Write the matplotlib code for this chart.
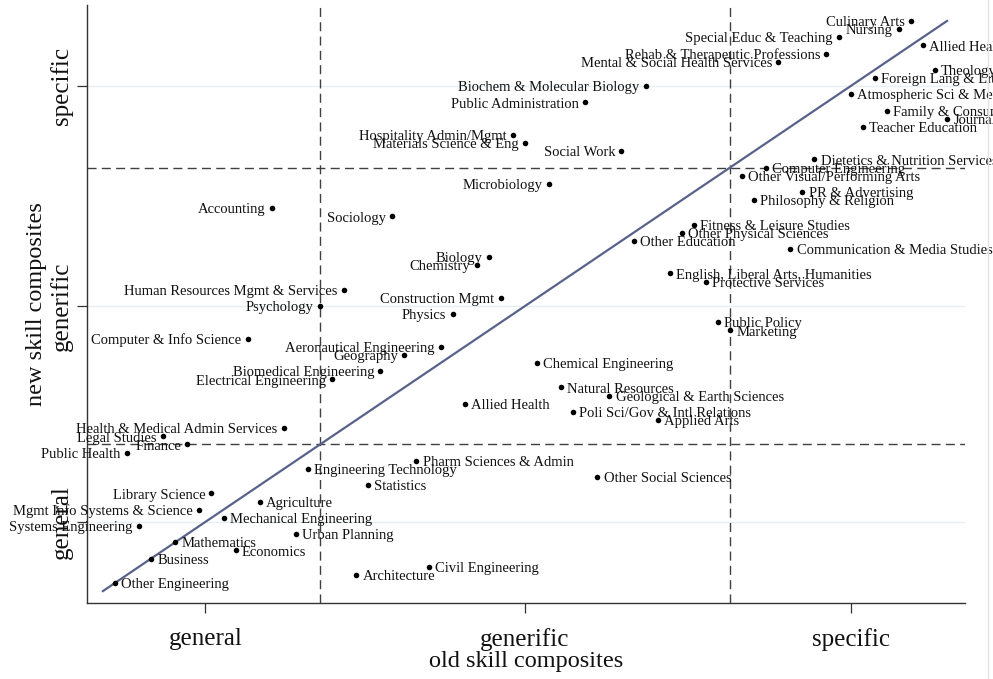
import matplotlib
matplotlib.use("Agg")
import matplotlib.pyplot as plt
from matplotlib.lines import Line2D

# Majors ranked by old and new skill composites (1 = most general, 70 = most specific)
majors = [
    "Other Engineering", "Public Health", "Systems Engineering", "Business",
    "Legal Studies", "Mathematics", "Finance", "Mgmt Info Systems & Science",
    "Library Science", "Mechanical Engineering", "Economics", "Computer & Info Science",
    "Agriculture", "Accounting", "Health & Medical Admin Services", "Urban Planning",
    "Engineering Technology", "Psychology", "Electrical Engineering",
    "Human Resources Mgmt & Services", "Architecture", "Statistics",
    "Biomedical Engineering", "Sociology", "Geography", "Pharm Sciences & Admin",
    "Civil Engineering", "Aeronautical Engineering", "Physics", "Allied Health",
    "Chemistry", "Biology", "Construction Mgmt", "Hospitality Admin/Mgmt",
    "Materials Science & Eng", "Chemical Engineering", "Microbiology",
    "Natural Resources", "Poli Sci/Gov & Intl Relations", "Public Administration",
    "Other Social Sciences", "Geological & Earth Sciences", "Social Work",
    "Other Education", "Biochem & Molecular Biology", "Applied Arts",
    "English, Liberal Arts, Humanities", "Other Physical Sciences",
    "Fitness & Leisure Studies", "Protective Services", "Public Policy", "Marketing",
    "Other Visual/Performing Arts", "Philosophy & Religion", "Computer Engineering",
    "Mental & Social Health Services", "Communication & Media Studies",
    "PR & Advertising", "Dietetics & Nutrition Services",
    "Rehab & Therapeutic Professions", "Special Educ & Teaching",
    "Atmospheric Sci & Meteorology", "Teacher Education", "Foreign Lang & Lit",
    "Family & Consumer Sciences", "Nursing", "Culinary Arts", "Allied Health",
    "Theology", "Journalism",
]

old_rank = list(range(1, 71))

new_rank = [
    1, 17, 8, 4, 19, 6, 18, 10, 12, 9,
    5, 31, 11, 47, 20, 7, 15, 35, 26, 37,
    2, 13, 27, 46, 29, 16, 3, 30, 34, 23,
    40, 41, 36, 56, 55, 28, 50, 25, 22, 60,
    14, 24, 54, 43, 62, 21, 39, 44, 45, 38,
    33, 32, 51, 48, 52, 65, 42, 49, 53, 66,
    68, 61, 57, 63, 59, 69, 70, 67, 64, 58,
]

tick_pos = [8.5, 35, 62]
tick_labels = ["general", "generific", "specific"]
cutoffs = [18, 52]

SERIF = ["Liberation Serif", "DejaVu Serif"]
plt.rcParams["font.family"] = SERIF

fig = plt.figure(figsize=(9.93, 6.79), dpi=100)
W, H = 993, 679
left_px, right_px, top_px, bottom_px = 87, 965, 5, 603
ax = fig.add_axes([left_px / W, 1 - bottom_px / H,
                   (right_px - left_px) / W, (bottom_px - top_px) / H])

ax.set_xlim(-1.32, 71.49)
ax.set_ylim(-1.46, 71.96)

# light horizontal grid at the y ticks
for t in tick_pos:
    ax.axhline(t, color="#e6eff1", lw=1.0, zorder=0)

# group cut-offs
dash = (0, (6.5, 3.8))
for c in cutoffs:
    ax.axvline(c, color="#404040", lw=1.0, linestyle=dash, zorder=1)
    ax.axhline(c, color="#404040", lw=1.0, linestyle=dash, zorder=1)

# 45-degree reference line
ax.plot([0, 70], [0, 70], color="#58628a", lw=1.6, zorder=2)

ax.scatter(old_rank, new_rank, s=16, color="black", zorder=3, linewidths=0)

for name, x, y in zip(majors, old_rank, new_rank):
    if y > x:
        ax.annotate(name, (x, y), xytext=(-4.5, -1.2), textcoords="offset points",
                    ha="right", va="center", fontsize=10.5, color="#111111",
                    annotation_clip=False)
    else:
        ax.annotate(name, (x, y), xytext=(4.5, -1.2), textcoords="offset points",
                    ha="left", va="center", fontsize=10.5, color="#111111",
                    annotation_clip=False)

for side in ("top", "right"):
    ax.spines[side].set_visible(False)
for side in ("left", "bottom"):
    ax.spines[side].set_color("#333333")
    ax.spines[side].set_linewidth(1.0)

ax.set_xticks(tick_pos, tick_labels)
ax.set_yticks(tick_pos, tick_labels)
ax.tick_params(axis="both", length=7, width=0.9, color="#333333",
               labelsize=18, labelcolor="#111111")
ax.tick_params(axis="x", pad=11)
ax.tick_params(axis="y", pad=3)
for lab in ax.get_yticklabels():
    lab.set_rotation(90)
    lab.set_va("center")

ax.set_xlabel("old skill composites", fontsize=17.5, color="#111111", labelpad=0)
ax.set_ylabel("new skill composites", fontsize=17.5, color="#111111", labelpad=2)

# thin border at the right edge of the canvas
fig.add_artist(Line2D([988 / W, 988 / W], [0, 1], color="#e2e2e2", lw=1.0))

fig.savefig("out.png", dpi=100)
